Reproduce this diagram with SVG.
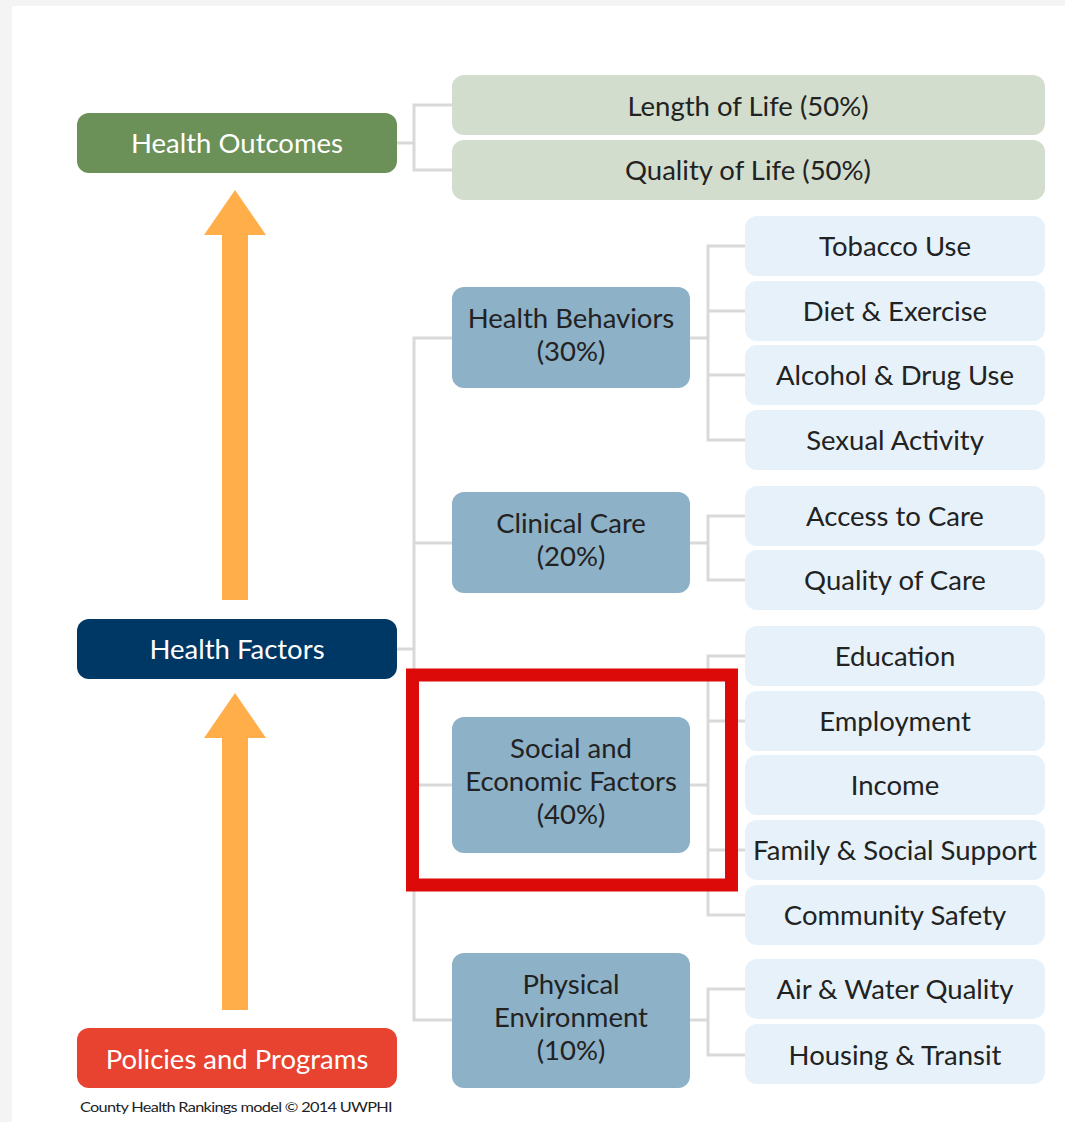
<svg xmlns="http://www.w3.org/2000/svg" width="1065" height="1122" viewBox="0 0 1065 1122">
<style>
text{font-family:Lato,"Noto Sans","Liberation Sans",sans-serif;font-size:27.5px;text-anchor:middle;fill:#222}
.w{fill:#fff}
.conn{fill:none;stroke:#d9d9d9;stroke-width:3}
.out{fill:#d2ddcd}
.cat{fill:#8db1c7}
.sub{fill:#e6f1f9}
.arrow{fill:#ffae4a}
</style>
<rect x="0" y="0" width="1065" height="1122" fill="#f4f4f4"/>
<rect x="12" y="6" width="1053" height="1116" fill="#fff"/>
<g id="connectors" class="conn">
<path d="M397 143H414M452 105H414V170H452"/>
<path d="M397 649H414M452 338H414V1020H452M414 543H452M414 785H452"/>
<path d="M690 338H708M745 246H708V440H745M708 311H745M708 375H745"/>
<path d="M690 543H708M745 516H708V580H745"/>
<path d="M690 785H708M745 656H708V915H745M708 721H745M708 850H745"/>
<path d="M690 1020H708M745 989H708V1055H745"/>
</g>
<g id="arrow-up-1"><polygon class="arrow" points="235,190 266,235 248,235 248,600 222,600 222,235 204,235"/></g>
<g id="arrow-up-2"><polygon class="arrow" points="235,693 266,738 248,738 248,1010 222,1010 222,738 204,738"/></g>
<g id="health-outcomes"><rect x="77" y="113" width="320" height="60" rx="12" fill="#6b9158"/><text class="w" x="237" y="153">Health Outcomes</text></g>
<g id="health-factors"><rect x="77" y="619" width="320" height="60" rx="12" fill="#003865"/><text class="w" x="237" y="659">Health Factors</text></g>
<g id="policies"><rect x="77" y="1028" width="320" height="60" rx="12" fill="#e84330"/><text class="w" x="237" y="1069">Policies and Programs</text></g>
<g id="length-of-life"><rect class="out" x="452" y="75" width="593" height="60" rx="12"/><text x="748" y="116">Length of Life (50%)</text></g>
<g id="quality-of-life"><rect class="out" x="452" y="140" width="593" height="60" rx="12"/><text x="748" y="180">Quality of Life (50%)</text></g>
<g id="health-behaviors"><rect class="cat" x="452" y="287" width="238" height="101" rx="12"/><text x="571" y="328">Health Behaviors</text><text x="571" y="361">(30%)</text></g>
<g id="clinical-care"><rect class="cat" x="452" y="492" width="238" height="101" rx="12"/><text x="571" y="533">Clinical Care</text><text x="571" y="566">(20%)</text></g>
<g id="social-economic"><rect class="cat" x="452" y="717" width="238" height="136" rx="12"/><text x="571" y="758">Social and</text><text x="571" y="791">Economic Factors</text><text x="571" y="824">(40%)</text></g>
<g id="physical-environment"><rect class="cat" x="452" y="953" width="238" height="135" rx="12"/><text x="571" y="994">Physical</text><text x="571" y="1027">Environment</text><text x="571" y="1060">(10%)</text></g>
<g id="tobacco"><rect class="sub" x="745" y="216" width="300" height="60" rx="12"/><text x="895" y="256">Tobacco Use</text></g>
<g id="diet"><rect class="sub" x="745" y="281" width="300" height="60" rx="12"/><text x="895" y="321">Diet &amp; Exercise</text></g>
<g id="alcohol"><rect class="sub" x="745" y="345" width="300" height="60" rx="12"/><text x="895" y="385">Alcohol &amp; Drug Use</text></g>
<g id="sexual"><rect class="sub" x="745" y="410" width="300" height="60" rx="12"/><text x="895" y="450">Sexual Activity</text></g>
<g id="access"><rect class="sub" x="745" y="486" width="300" height="60" rx="12"/><text x="895" y="526">Access to Care</text></g>
<g id="quality-care"><rect class="sub" x="745" y="550" width="300" height="60" rx="12"/><text x="895" y="590">Quality of Care</text></g>
<g id="education"><rect class="sub" x="745" y="626" width="300" height="60" rx="12"/><text x="895" y="666">Education</text></g>
<g id="employment"><rect class="sub" x="745" y="691" width="300" height="60" rx="12"/><text x="895" y="731">Employment</text></g>
<g id="income"><rect class="sub" x="745" y="755" width="300" height="60" rx="12"/><text x="895" y="795">Income</text></g>
<g id="family"><rect class="sub" x="745" y="820" width="300" height="60" rx="12"/><text x="895" y="860">Family &amp; Social Support</text></g>
<g id="community"><rect class="sub" x="745" y="885" width="300" height="60" rx="12"/><text x="895" y="925">Community Safety</text></g>
<g id="air-water"><rect class="sub" x="745" y="959" width="300" height="60" rx="12"/><text x="895" y="999">Air &amp; Water Quality</text></g>
<g id="housing"><rect class="sub" x="745" y="1024" width="300" height="60" rx="12"/><text x="895" y="1065">Housing &amp; Transit</text></g>
<rect id="highlight" x="412.5" y="675" width="319" height="210" fill="none" stroke="#dd0a0a" stroke-width="13"/>
<text x="80" y="1112" style="font-size:14px;text-anchor:start;letter-spacing:-0.6px" textLength="312" lengthAdjust="spacingAndGlyphs">County Health Rankings model © 2014 UWPHI</text>
</svg>
